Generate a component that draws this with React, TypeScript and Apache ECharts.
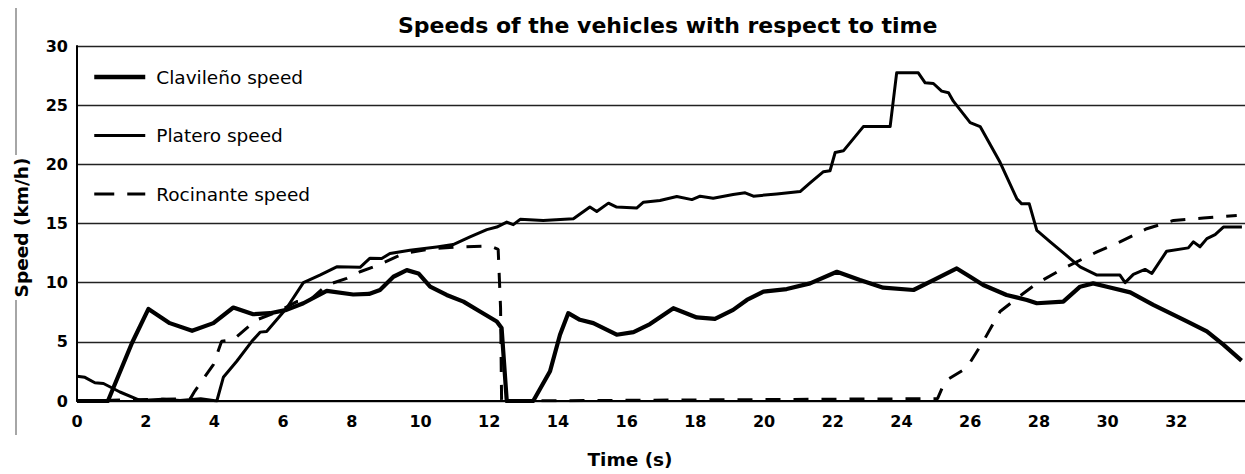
import React, { useEffect, useRef } from "react";
import * as echarts from "echarts";

const titleText = "Speeds of the vehicles with respect to time";
const xTicks = [0, 2, 4, 6, 8, 10, 12, 14, 16, 18, 20, 22, 24, 26, 28, 30, 32];
const seriesNames = ["Clavileño speed", "Platero speed", "Rocinante speed"];

const clavilenoTime = [
  0, 0.9, 1.6, 2.08, 2.7, 3.35, 3.97, 4.55, 5.13, 5.62,
  6.1, 6.59, 7.27, 8.04, 8.5, 8.82, 9.21, 9.6, 9.94, 10.28,
  10.76, 11.25, 11.73, 12.22, 12.36, 12.51, 13.28, 13.77, 14.06, 14.3,
  14.64, 15.03, 15.71, 16.2, 16.68, 17.36, 18.04, 18.57, 19.1, 19.5,
  19.98, 20.66, 21.34, 22.12, 22.79, 23.47, 24.35, 24.93, 25.61, 26.0,
  26.38, 27.06, 27.65, 27.94, 28.71, 29.2, 29.58, 29.98, 30.66, 31.33,
  32.31, 32.89, 33.37, 33.9,
];
const clavilenoSpeed = [
  0, 0, 4.9, 7.78, 6.58, 5.93, 6.58, 7.9, 7.33, 7.42,
  7.7, 8.26, 9.3, 9.0, 9.05, 9.38, 10.5, 11.06, 10.78, 9.66,
  8.96, 8.4, 7.56, 6.72, 6.16, 0, 0, 2.52, 5.6, 7.42,
  6.86, 6.58, 5.6, 5.82, 6.5, 7.84, 7.06, 6.94, 7.7, 8.54,
  9.24, 9.46, 9.94, 10.92, 10.22, 9.58, 9.38, 10.22, 11.2, 10.5,
  9.8, 8.96, 8.54, 8.26, 8.4, 9.66, 9.94, 9.66, 9.18, 8.12,
  6.72, 5.88, 4.76, 3.41,
];

const plateroTime = [
  0, 0.23, 0.52, 0.77, 1.25, 1.83, 2.5, 3.0, 3.6, 4.07,
  4.26, 4.65, 5.09, 5.33, 5.52, 6.1, 6.59, 7.07, 7.56, 8.24,
  8.53, 8.87, 9.11, 9.69, 10.47, 10.95, 11.44, 11.93, 12.22, 12.51,
  12.7, 12.9, 13.57, 14.45, 14.93, 15.13, 15.47, 15.71, 16.29, 16.49,
  16.97, 17.46, 17.9, 18.14, 18.52, 19.1, 19.45, 19.69, 20.37, 21.05,
  21.34, 21.73, 21.92, 22.07, 22.31, 22.89, 23.67, 23.86, 24.49, 24.69,
  24.93, 25.17, 25.37, 25.51, 26.0, 26.29, 26.87, 27.36, 27.5, 27.72,
  27.94, 28.33, 28.91, 29.2, 29.69, 30.36, 30.51, 30.75, 31.09, 31.29,
  31.72, 32.35, 32.5, 32.69, 32.89, 33.13, 33.37, 33.91,
];
const plateroSpeed = [
  2.1, 2.0, 1.54, 1.48, 0.76, 0.05, 0.15, 0.05, 0.2, 0,
  2.0, 3.36, 5.04, 5.82, 5.88, 7.84, 10.0, 10.64, 11.34, 11.3,
  12.07, 12.04, 12.46, 12.74, 13.02, 13.22, 13.86, 14.48, 14.7, 15.12,
  14.9, 15.35, 15.26, 15.4, 16.39, 16.02, 16.72, 16.39, 16.3, 16.8,
  16.94, 17.28, 17.02, 17.31, 17.14, 17.45, 17.59, 17.31, 17.5, 17.7,
  18.43, 19.38, 19.46, 21.0, 21.14, 23.19, 23.19, 27.73, 27.73, 26.89,
  26.83, 26.19, 26.05, 25.34, 23.53, 23.19, 20.17, 17.08, 16.66, 16.66,
  14.42, 13.45, 12.04, 11.34, 10.64, 10.64, 10.0, 10.7, 11.12, 10.78,
  12.66, 12.94, 13.45, 13.03, 13.72, 14.06, 14.7, 14.7,
];

const rocinanteTime = [
  0, 3.3, 3.43, 3.97, 4.21, 4.55, 4.94, 5.23, 5.81, 6.4,
  6.78, 7.27, 7.85, 8.24, 8.72, 9.5, 10.37, 11.15, 12.02, 12.26,
  12.33, 12.36, 25.05, 25.27, 25.9, 26.38, 26.87, 27.36, 27.94, 28.71,
  29.69, 30.36, 31.14, 31.92, 32.79, 33.76,
];
const rocinanteSpeed = [
  0, 0.2, 0.84, 3.08, 5.04, 5.18, 6.16, 6.86, 7.5, 8.4,
  8.54, 9.8, 10.36, 10.92, 11.43, 12.46, 12.88, 13.02, 13.1, 12.82,
  7.84, 0, 0.2, 1.68, 2.8, 5.04, 7.56, 8.68, 9.94, 11.2,
  12.6, 13.45, 14.56, 15.26, 15.46, 15.68,
];

const zip = (t: number[], v: number[]) => t.map((x, i) => [x, v[i]]);

export default function App() {
  const ref = useRef<HTMLDivElement>(null);
  useEffect(() => {
    document.body.style.margin = "0";
    const chart = echarts.init(ref.current!, null, { renderer: "svg" });
    const font = "DejaVu Sans";
    const widths = [4.5, 3, 3];
    chart.setOption({
      animation: false,
      backgroundColor: "#ffffff",
      textStyle: { fontFamily: font, color: "#000" },
      title: {
        text: titleText,
        left: 398,
        top: 14,
        padding: 0,
        textStyle: { fontFamily: font, fontWeight: "bold", fontSize: 22, color: "#000" },
      },
      legend: {
        orient: "vertical",
        left: 92,
        top: 66,
        padding: 0,
        itemWidth: 51,
        itemHeight: 14,
        itemGap: 36.5,
        data: seriesNames.map((n, i) => ({
          name: n,
          lineStyle: { width: widths[i], type: i === 2 ? [20, 13] : "solid", color: "#000" },
        })),
        itemStyle: { opacity: 0 },
        textStyle: { fontFamily: font, fontSize: 18.5, color: "#000", lineHeight: 22, padding: [0, 0, 0, 6] },
      },
      grid: { left: 77, right: 0, top: 46, bottom: 71, containLabel: false },
      xAxis: {
        type: "value",
        min: 0,
        max: 34,
        interval: 2,
        name: "Time (s)",
        nameLocation: "middle",
        nameGap: 49,
        nameTextStyle: { fontFamily: font, fontWeight: "bold", fontSize: 18.5, color: "#000", padding: [0, 62, 0, 0] },
        axisLine: { show: true, lineStyle: { color: "#000", width: 2 } },
        axisTick: { show: false },
        splitLine: { show: false },
        axisLabel: {
          showMaxLabel: false,
          margin: 12,
          fontFamily: font,
          fontWeight: "bold",
          fontSize: 16,
          color: "#000",
          formatter: (v: number) => (xTicks.includes(v) ? String(v) : ""),
        },
      },
      yAxis: {
        type: "value",
        min: 0,
        max: 30,
        interval: 5,
        name: "Speed (km/h)",
        nameLocation: "middle",
        nameGap: 46,
        nameTextStyle: { fontFamily: font, fontWeight: "bold", fontSize: 18.5, color: "#000", padding: [0, 8, 0, 0] },
        axisLine: { show: true, lineStyle: { color: "#000", width: 2 } },
        axisTick: { show: false },
        splitLine: { show: true, lineStyle: { color: "#222", width: 1.4 } },
        axisLabel: { margin: 9, fontFamily: font, fontWeight: "bold", fontSize: 16, color: "#000" },
      },
      graphic: [
        { type: "line", shape: { x1: 16, y1: 8, x2: 16, y2: 155 }, style: { stroke: "#888", lineWidth: 1.5 } },
        { type: "line", shape: { x1: 16, y1: 300, x2: 16, y2: 435 }, style: { stroke: "#888", lineWidth: 1.5 } },
      ],
      series: [
        {
          name: seriesNames[0],
          type: "line",
          data: zip(clavilenoTime, clavilenoSpeed),
          symbol: "none",
          lineStyle: { color: "#000", width: 4.2, join: "round" },
          itemStyle: { color: "#000" },
        },
        {
          name: seriesNames[1],
          type: "line",
          data: zip(plateroTime, plateroSpeed),
          symbol: "none",
          lineStyle: { color: "#000", width: 3, join: "round" },
          itemStyle: { color: "#000" },
        },
        {
          name: seriesNames[2],
          type: "line",
          data: zip(rocinanteTime, rocinanteSpeed),
          symbol: "none",
          lineStyle: { color: "#000", width: 3, type: [15, 13] },
          itemStyle: { color: "#000" },
        },
      ],
    });
    return () => chart.dispose();
  }, []);
  return (
    <div
      ref={ref}
      style={{ position: "absolute", left: 0, top: 0, width: 1245, height: 474 }}
    />
  );
}
